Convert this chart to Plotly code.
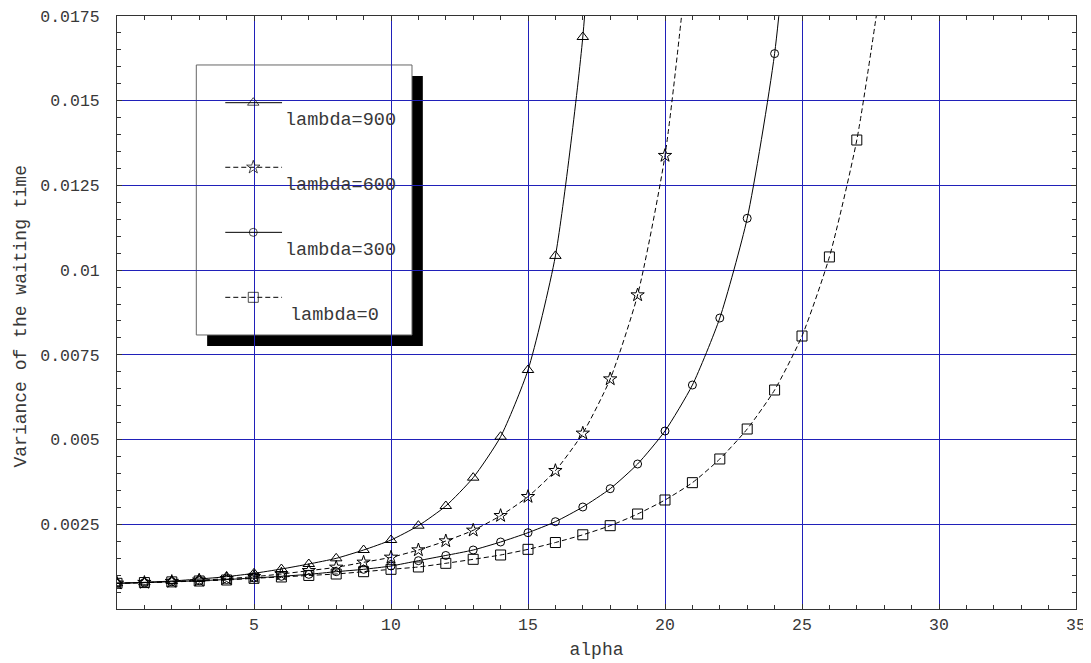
import plotly.graph_objects as go

# ---------------- data ----------------
alpha_900 = list(range(0, 19))
var_900 = [0.000758, 0.000787, 0.000826, 0.000885, 0.000954, 0.001053, 0.00118,
           0.001328, 0.001495, 0.001741, 0.002036, 0.002459, 0.00304, 0.003876,
           0.005085, 0.007053, 0.01042, 0.01688, 0.030]

alpha_600 = list(range(0, 22))
var_600 = [0.000758, 0.00078, 0.00081, 0.00085, 0.000895, 0.000954, 0.001033,
           0.001131, 0.00123, 0.001378, 0.001525, 0.001741, 0.002007, 0.002322,
           0.002754, 0.003315, 0.004082, 0.005185, 0.006787, 0.009266, 0.01338,
           0.0205]

alpha_300 = list(range(0, 26))
var_300 = [0.000758, 0.00078, 0.000805, 0.000835, 0.00087, 0.000915, 0.000965,
           0.001023, 0.001101, 0.001171, 0.001269, 0.001426, 0.00158, 0.001741,
           0.001977, 0.002252, 0.002577, 0.00301, 0.00355, 0.004279, 0.005253,
           0.00661, 0.008587, 0.01153, 0.01639, 0.025]

alpha_0 = list(range(0, 29))
var_0 = [0.000758, 0.00078, 0.0008, 0.000826, 0.000856, 0.000905, 0.000945,
         0.00099, 0.001033, 0.001101, 0.001171, 0.00124, 0.001348, 0.001466,
         0.001594, 0.001761, 0.001962, 0.00219, 0.002459, 0.002803, 0.003217,
         0.003728, 0.004427, 0.005312, 0.006463, 0.008056, 0.01039, 0.01384,
         0.0191]

series_names = ["lambda=900", "lambda=600", "lambda=300", "lambda=0"]

x_tickvals = [5, 10, 15, 20, 25, 30, 35]
x_ticktext = ["5", "10", "15", "20", "25", "30", "35"]
y_tickvals = [0.0025, 0.005, 0.0075, 0.01, 0.0125, 0.015, 0.0175]
y_ticktext = ["0.0025", "0.005", "0.0075", "0.01", "0.0125", "0.015", "0.0175"]

x_title = "alpha"
y_title = "Variance of the waiting time"

# ---------------- styling ----------------
FONT = "Courier New, Liberation Mono, monospace"
TXT = "#383838"
GRID = "rgb(32,32,185)"
FRAME = "#333333"
DASH = "5px,3px"

styles = [
    dict(symbol="triangle-up-open", size=10, dash="solid"),
    dict(symbol="star-open", size=10, dash=DASH),
    dict(symbol="circle-open", size=8, dash="solid"),
    dict(symbol="square-open", size=10, dash=DASH),
]

fig = go.Figure()

data = [(alpha_900, var_900), (alpha_600, var_600), (alpha_300, var_300), (alpha_0, var_0)]
for (xs, ys), st, name in zip(data, styles, series_names):
    fig.add_trace(go.Scatter(
        x=xs, y=ys, name=name, mode="lines+markers",
        line=dict(color="black", width=1, dash=st["dash"], shape="spline", smoothing=0.6),
        marker=dict(symbol=st["symbol"], size=st["size"], color="black",
                    line=dict(color="black", width=1)),
        showlegend=False,
    ))

# ---------------- hand-drawn legend (paper-fraction coordinates) ----------------
box = dict(x0=0.0827, x1=0.3076, y0=0.4621, y1=0.9174)
shadow_dx, shadow_dy = 0.0113, 0.0186
leg_line_x = [0.1129, 0.1421, 0.1721]
leg_line_y = [0.8538, 0.7449, 0.6352, 0.5256]
leg_text_y = [0.8234, 0.7145, 0.6049, 0.4941]
leg_text_x = [0.1735, 0.1735, 0.1735, 0.1787]

fig.add_shape(type="rect", xref="paper", yref="paper",
              x0=box["x0"] + shadow_dx, x1=box["x1"] + shadow_dx,
              y0=box["y0"] - shadow_dy, y1=box["y1"] - shadow_dy,
              fillcolor="black", line=dict(color="black", width=0), layer="between")
fig.add_shape(type="rect", xref="paper", yref="paper",
              x0=box["x0"], x1=box["x1"], y0=box["y0"], y1=box["y1"],
              fillcolor="white", line=dict(color="#666666", width=1), layer="between")

for st, ly, tx, ty, name in zip(styles, leg_line_y, leg_text_x, leg_text_y, series_names):
    fig.add_trace(go.Scatter(
        x=leg_line_x, y=[ly] * 3, xaxis="x2", yaxis="y2", mode="lines+markers",
        line=dict(color="black", width=1, dash=st["dash"]),
        marker=dict(symbol=st["symbol"], size=[0, st["size"], 0], color="black",
                    line=dict(color="black", width=1)),
        showlegend=False, hoverinfo="skip",
    ))
    fig.add_annotation(x=tx, y=ty, xref="paper", yref="paper", text=name,
                       showarrow=False, xanchor="left", yanchor="middle",
                       font=dict(family=FONT, size=18.5, color=TXT))

# y-axis title, placed at the left edge like the reference
fig.add_annotation(x=0, y=0.5, xref="paper", yref="paper", text=y_title,
                   textangle=-90, showarrow=False, xanchor="center", yanchor="middle",
                   xshift=-97, yshift=-4,
                   font=dict(family=FONT, size=18, color=TXT))

axis_common = dict(
    showline=True, linecolor=FRAME, linewidth=1, mirror="ticks",
    ticks="inside", ticklen=5, tickcolor=FRAME, tickwidth=1,
    showgrid=True, gridcolor=GRID, gridwidth=1, zeroline=False,
    tickfont=dict(family=FONT, size=16.5, color=TXT),
    automargin=False, ticklabeloverflow="allow",
)

hidden = dict(visible=False, showgrid=False, zeroline=False, showline=False,
              showticklabels=False, ticks="", fixedrange=True)

# the page body adds an 8px offset, so the figure is 8px smaller than the window
fig.update_layout(
    width=1083, height=655,
    margin=dict(l=109, r=15, t=8, b=54),
    paper_bgcolor="white", plot_bgcolor="white",
    showlegend=False,
    xaxis=dict(
        range=[0, 35], tickmode="array", tickvals=x_tickvals, ticktext=x_ticktext,
        minor=dict(dtick=1, tick0=0, ticks="inside", ticklen=4, tickcolor=FRAME, showgrid=False),
        title=dict(text=x_title, font=dict(family=FONT, size=18, color=TXT), standoff=8),
        **axis_common,
    ),
    yaxis=dict(
        range=[0, 0.0175], tickmode="array", tickvals=y_tickvals, ticktext=y_ticktext,
        minor=dict(dtick=0.0005, tick0=0, ticks="inside", ticklen=4, tickcolor=FRAME, showgrid=False),
        ticklabelstandoff=13,
        **axis_common,
    ),
    xaxis2=dict(overlaying="x", range=[0, 1], anchor="y2", **hidden),
    yaxis2=dict(overlaying="y", range=[0, 1], anchor="x2", **hidden),
)

fig.write_html("out.html")
